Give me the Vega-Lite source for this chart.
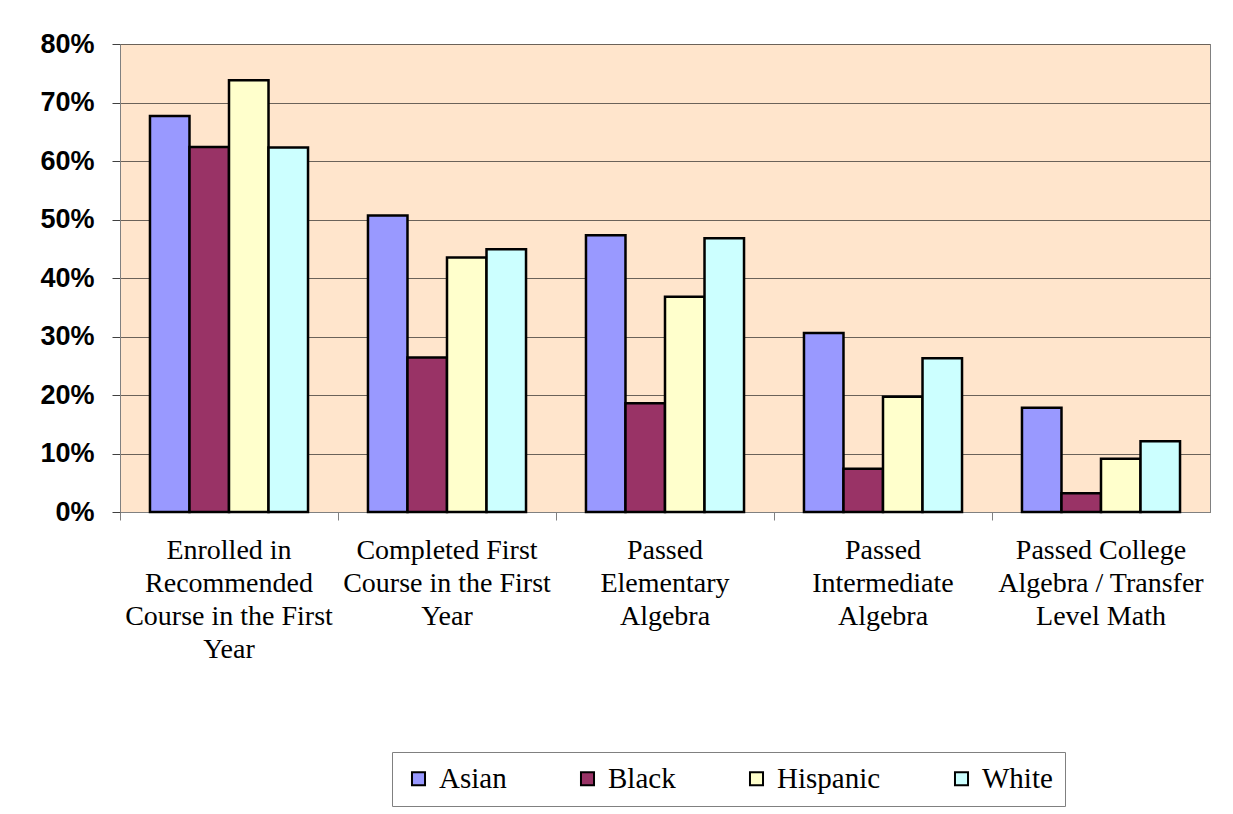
{
  "$schema": "https://vega.github.io/schema/vega-lite/v6.json",
  "width": 1090,
  "height": 468,
  "autosize": {"type": "none"},
  "padding": {"left": 120, "top": 44, "right": 23, "bottom": 302},
  "background": "white",
  "data": {
    "values": [
      {"category": "Enrolled in Recommended Course in the First Year", "group": "Asian", "value": 0.677},
      {"category": "Enrolled in Recommended Course in the First Year", "group": "Black", "value": 0.624},
      {"category": "Enrolled in Recommended Course in the First Year", "group": "Hispanic", "value": 0.738},
      {"category": "Enrolled in Recommended Course in the First Year", "group": "White", "value": 0.623},
      {"category": "Completed First Course in the First Year", "group": "Asian", "value": 0.507},
      {"category": "Completed First Course in the First Year", "group": "Black", "value": 0.264},
      {"category": "Completed First Course in the First Year", "group": "Hispanic", "value": 0.435},
      {"category": "Completed First Course in the First Year", "group": "White", "value": 0.449},
      {"category": "Passed Elementary Algebra", "group": "Asian", "value": 0.473},
      {"category": "Passed Elementary Algebra", "group": "Black", "value": 0.186},
      {"category": "Passed Elementary Algebra", "group": "Hispanic", "value": 0.368},
      {"category": "Passed Elementary Algebra", "group": "White", "value": 0.468},
      {"category": "Passed Intermediate Algebra", "group": "Asian", "value": 0.306},
      {"category": "Passed Intermediate Algebra", "group": "Black", "value": 0.074},
      {"category": "Passed Intermediate Algebra", "group": "Hispanic", "value": 0.197},
      {"category": "Passed Intermediate Algebra", "group": "White", "value": 0.263},
      {"category": "Passed College Algebra / Transfer Level Math", "group": "Asian", "value": 0.178},
      {"category": "Passed College Algebra / Transfer Level Math", "group": "Black", "value": 0.032},
      {"category": "Passed College Algebra / Transfer Level Math", "group": "Hispanic", "value": 0.091},
      {"category": "Passed College Algebra / Transfer Level Math", "group": "White", "value": 0.121}
    ]
  },
  "layer": [
    {
      "mark": {"type": "bar", "stroke": "black", "strokeWidth": 2.5},
      "encoding": {
        "x": {
          "field": "category",
          "type": "nominal",
          "sort": null,
          "scale": {"paddingInner": 0.275, "paddingOuter": 0.1375},
          "axis": {
            "title": null,
            "orient": "bottom",
            "labelAngle": 0,
            "ticks": false,
            "labelAlign": "center",
            "labelBaseline": "top",
            "labelFont": "Liberation Serif",
            "labelFontSize": 28,
            "labelLineHeight": 33,
            "labelPadding": 24,
            "labelColor": "black",
            "labelLimit": 300,
            "domainColor": "#808080",
            "grid": false,
            "labelExpr": "datum.value == 'Enrolled in Recommended Course in the First Year' ? ['Enrolled in', 'Recommended', 'Course in the First', 'Year'] : datum.value == 'Completed First Course in the First Year' ? ['Completed First', 'Course in the First', 'Year'] : datum.value == 'Passed Elementary Algebra' ? ['Passed', 'Elementary', 'Algebra'] : datum.value == 'Passed Intermediate Algebra' ? ['Passed', 'Intermediate', 'Algebra'] : ['Passed College', 'Algebra / Transfer', 'Level Math']"
          }
        },
        "xOffset": {"field": "group", "type": "nominal", "sort": ["Asian", "Black", "Hispanic", "White"]},
        "y": {
          "field": "value",
          "type": "quantitative",
          "scale": {"domain": [0, 0.8], "nice": false},
          "axis": {
            "title": null,
            "values": [0, 0.1, 0.2, 0.3, 0.4, 0.5, 0.6, 0.7, 0.8],
            "format": ".0%",
            "labelFont": "Liberation Sans",
            "labelFontWeight": "bold",
            "labelFontSize": 27,
            "labelColor": "black",
            "labelPadding": 18,
            "tickSize": 8,
            "tickColor": "#404040",
            "domainColor": "#808080",
            "grid": true,
            "gridColor": "#6b6259",
            "gridWidth": 1
          }
        },
        "color": {
          "field": "group",
          "type": "nominal",
          "scale": {
            "domain": ["Asian", "Black", "Hispanic", "White"],
            "range": ["#9999FF", "#993366", "#FFFFCC", "#CCFFFF"]
          },
          "legend": {
            "title": null,
            "orient": "none",
            "legendX": 272,
            "legendY": 708,
            "direction": "horizontal",
            "strokeColor": "#808080",
            "fillColor": "white",
            "padding": 12,
            "symbolType": "square",
            "symbolSize": 170,
            "symbolStrokeColor": "black",
            "symbolStrokeWidth": 2,
            "labelFont": "Liberation Serif",
            "labelFontSize": 29,
            "labelColor": "black",
            "labelOffset": 6,
            "columnPadding": 66
          }
        }
      }
    },
    {
      "mark": {"type": "bar", "opacity": 0},
      "encoding": {
        "x": {
          "field": "category",
          "type": "nominal",
          "sort": null,
          "axis": {
            "title": null,
            "orient": "bottom",
            "labels": false,
            "domain": false,
            "grid": false,
            "tickOffset": -109,
            "tickSize": 8,
            "tickColor": "#808080"
          }
        },
        "y": {"field": "value", "type": "quantitative"}
      }
    }
  ],
  "resolve": {"axis": {"x": "independent"}},
  "config": {
    "view": {"fill": "#FFE5CC", "stroke": "#808080"}
  }
}
